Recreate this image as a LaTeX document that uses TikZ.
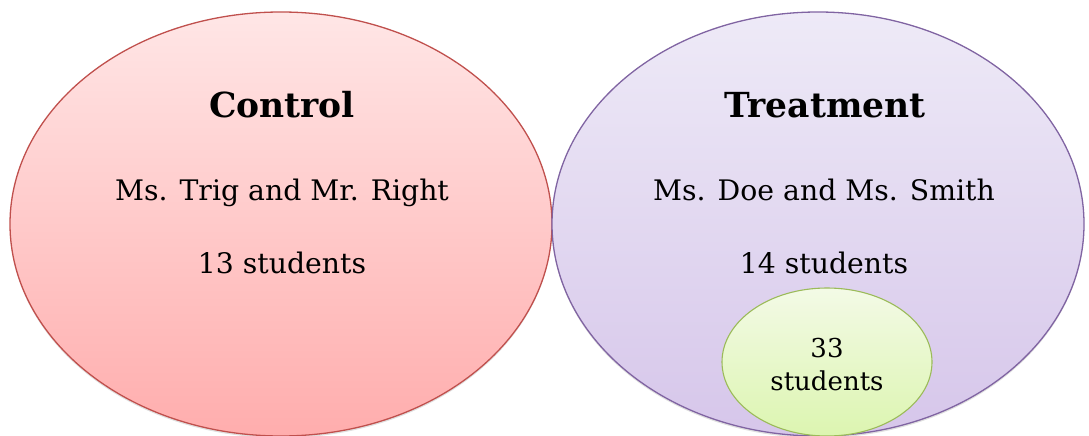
\documentclass[tikz,border=0pt]{standalone}
\usepackage{fontspec}
\setmainfont{DejaVu Serif}
\usetikzlibrary{shapes.geometric,shadows}
\definecolor{redline}{HTML}{C0504D}
\definecolor{redtop}{HTML}{FFE6E6}
\definecolor{redbot}{HTML}{FFADAD}
\definecolor{purpleline}{HTML}{8064A2}
\definecolor{purpletop}{HTML}{EEEAF7}
\definecolor{purplebot}{HTML}{D6C6EA}
\definecolor{greenline}{HTML}{9BBB59}
\definecolor{greentop}{HTML}{F3FAE6}
\definecolor{greenbot}{HTML}{DCF5B0}
\tikzset{
  bigell/.style={ellipse, inner sep=0pt, line width=1.3pt,
    drop shadow={shadow xshift=0pt, shadow yshift=-2pt, opacity=0.25}},
  title/.style={font=\fontsize{34.5}{40}\selectfont\bfseries, anchor=base},
  body/.style={font=\fontsize{28.3}{33}\selectfont, anchor=base},
  small/.style={font=\fontsize{26}{30}\selectfont, anchor=base}
}
\begin{document}
\begin{tikzpicture}[x=1pt,y=-1pt]
\useasboundingbox (0,0) rectangle (1089,436);
\node[bigell, draw=redline, top color=redtop, bottom color=redbot,
  minimum width=542pt, minimum height=424pt] (control) at (281,224) {};
\node[bigell, draw=purpleline, top color=purpletop, bottom color=purplebot,
  minimum width=532pt, minimum height=424pt] (treat) at (818,224) {};
\node[ellipse, inner sep=0pt, line width=1.1pt, draw=greenline, top color=greentop, bottom color=greenbot,
  minimum width=210pt, minimum height=148pt] (sub) at (827,362) {};
\node[title] (ct) at (282,117) {Control};
\node[body] (cn) at (282,200) {Ms. Trig and Mr. Right};
\node[body] (cs) at (282,273) {13 students};
\node[title] (tt) at (825,117) {Treatment};
\node[body] (tn) at (824,200) {Ms. Doe and Ms. Smith};
\node[body] (ts) at (824,273) {14 students};
\node[small] (s1) at (827,357) {33};
\node[small] (s2) at (827,390) {students};
\end{tikzpicture}
\end{document}
